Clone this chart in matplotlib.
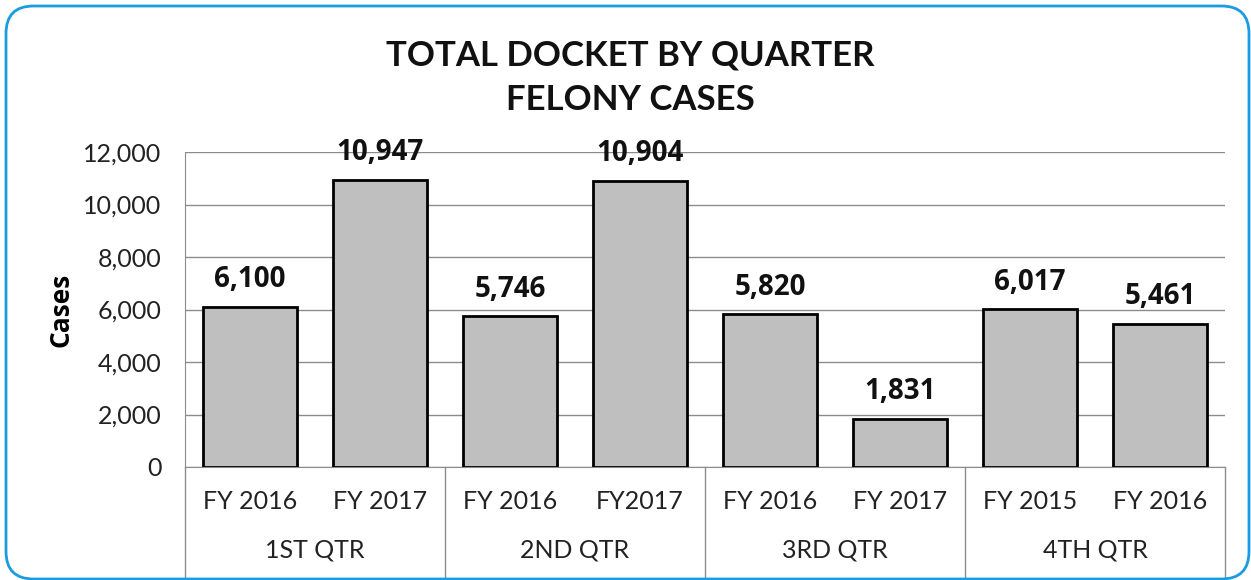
import matplotlib
matplotlib.use("Agg")
import matplotlib.pyplot as plt
from matplotlib.patches import FancyBboxPatch

# data
years = ["FY 2016", "FY 2017", "FY 2016", "FY2017", "FY 2016", "FY 2017", "FY 2015", "FY 2016"]
quarters = ["1ST QTR", "2ND QTR", "3RD QTR", "4TH QTR"]
cases = [6100, 10947, 5746, 10904, 5820, 1831, 6017, 5461]
yticks = [0, 2000, 4000, 6000, 8000, 10000, 12000]

fig = plt.figure(figsize=(12.51, 5.8), dpi=100)

# rounded blue frame around chart
frame = FancyBboxPatch((6 / 1251, 1 / 580), 1243 / 1251, 573 / 580,
                       boxstyle="round,pad=0,rounding_size=0.022",
                       transform=fig.transFigure, fill=False,
                       edgecolor="#1a9be2", linewidth=2, mutation_aspect=1251 / 580)
fig.patches.append(frame)

ax = fig.add_axes([185 / 1251, 1 - 467 / 580, 1040 / 1251, 315 / 580])

x = list(range(len(cases)))
ax.bar(x, cases, width=0.72, color="#bfbfbf", edgecolor="black", linewidth=2, zorder=3)

for xi, v in zip(x, cases):
    ax.annotate(f"{v:,}", (xi, v), xytext=(0, 9), textcoords="offset points",
                ha="center", va="bottom", fontsize=20, fontweight="bold",
                family="Open Sans", color="#111111")

ax.set_xlim(-0.5, len(cases) - 0.5)
ax.set_ylim(0, 12000)
ax.set_yticks(yticks)
ax.set_yticklabels([f"{t:,}" for t in yticks], fontsize=18, family="Lato", color="#222222")
ax.tick_params(axis="y", length=0, pad=17)
ax.set_xticks([])
ax.yaxis.grid(True, color="#8c8c8c", linewidth=1)
ax.set_axisbelow(True)
for s in ["top", "right"]:
    ax.spines[s].set_visible(False)
ax.spines["left"].set_color("#8c8c8c")
ax.spines["bottom"].set_color("#8c8c8c")

ax.set_ylabel("Cases", fontsize=19, fontweight="bold", family="Open Sans", labelpad=6)

# two-level category axis
tr = ax.get_xaxis_transform()
for xi, lab in zip(x, years):
    ax.text(xi, -0.111, lab, transform=tr, ha="center", va="center",
            fontsize=18, family="Lato", color="#222222")
for i, q in enumerate(quarters):
    ax.text(2 * i + 0.5, -0.263, q, transform=tr, ha="center", va="center",
            fontsize=18, family="Lato", color="#222222")
for b in [-0.5, 1.5, 3.5, 5.5, 7.5]:
    ax.plot([b, b], [0, -0.35], transform=tr, color="#8c8c8c", linewidth=1, clip_on=False)

fig.text(0.504, 1 - 78 / 580, "TOTAL DOCKET BY QUARTER\nFELONY CASES", ha="center", va="center",
         fontsize=25, fontweight="bold", family="Lato", linespacing=1.5, color="#111111")

fig.savefig("out.png", dpi=100)
